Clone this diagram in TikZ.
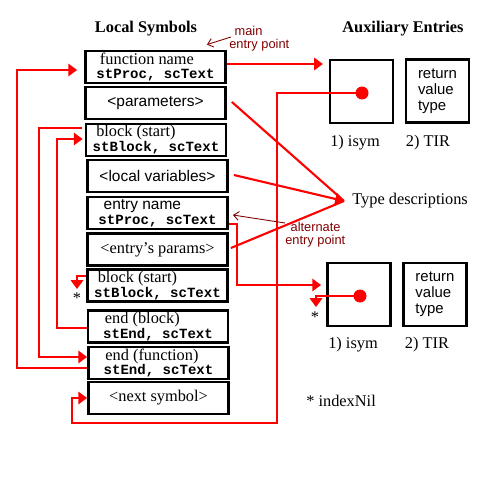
\documentclass[tikz,border=0pt]{standalone}
\usepackage{fontspec}
\setmainfont{Liberation Serif}
\setsansfont{Liberation Sans}
\setmonofont{Liberation Mono}
\usepackage{tikz}
\usetikzlibrary{arrows.meta,calc,positioning}
\definecolor{labred}{RGB}{128,0,0}
\newcommand{\msz}{\fontsize{8}{8}\selectfont\ttfamily\bfseries}
\newcommand{\ssz}{\fontsize{8.8}{9}\selectfont\sffamily}
\tikzset{
	symbox/.style={draw, line width=1.6pt, minimum width=2.8cm, minimum height=0.64cm, inner sep=0pt, align=center, font=\fontsize{9.3}{8.5}\selectfont},
	twobox/.style={symbox, align=left},
	auxbox/.style={draw, line width=1.6pt, minimum width=1.26cm, minimum height=1.26cm, inner sep=0pt},
	rline/.style={red, line width=1.2pt},
	rarrow/.style={rline, -{Triangle[length=5pt,width=7pt]}},
	darrow/.style={labred, line width=0.5pt, -{Straight Barb[length=3pt,width=5pt]}},
	lab/.style={labred, font=\sffamily\fontsize{7.3}{7.4}\selectfont, align=left, inner sep=0pt},
	serif/.style={font=\fontsize{9.3}{10}\selectfont},
	dot/.style={circle, fill=red, minimum size=0.26cm, inner sep=0pt}
}

\begin{document}
\begin{tikzpicture}[x=0.02cm, y=-0.02cm]
	\useasboundingbox (0,0) rectangle (500,500);
	\node[font=\bfseries\fontsize{9.3}{10}\selectfont] (loctitle) at (146,29) {Local Symbols};
	\node[font=\bfseries\fontsize{9.3}{10}\selectfont] (auxtitle) at (403,29) {Auxiliary Entries};
	% local symbol table
	\node[twobox] (fn) at (155.5,67) {\hspace{2pt}function name\\{\msz stProc, scText}};
	\node[symbox, font=\ssz] (par) at (155.5,103) {<parameters>};
	\node[twobox] (blk) at (156,140) {\hspace{2pt}block (start)\\{\msz stBlock, scText}};
	\node[symbox, font=\ssz] (loc) at (157.5,176) {<local variables>};
	\node[twobox] (ent) at (157.5,213) {\hspace{3pt}{\ssz entry name}\\{\msz stProc, scText}};
	\node[symbox] (epar) at (157.5,249.5) {<entry's params>};
	\node[twobox] (blk2) at (157.5,285.5) {\hspace{2pt}block (start)\\{\msz stBlock, scText}};
	\node[twobox] (endb) at (158,326.5) {\hspace{1pt}end (block)\\{\msz stEnd, scText}};
	\node[twobox] (endf) at (158.5,363) {\hspace{1pt}end (function)\\{\msz stEnd, scText}};
	\node[symbox] (next) at (158.5,398) {<next symbol>};
	% auxiliary entries
	\node[auxbox] (isym1) at (361.5,91.5) {};
	\node[auxbox, align=left, font=\fontsize{8.5}{9}\selectfont\sffamily] (tir1) at (437.5,91) {return\\value\\type};
	\node[serif] (cap1a) at (355,143) {1) isym};
	\node[serif] (cap1b) at (428,143) {2) TIR};
	\node[auxbox] (isym2) at (359,294.5) {};
	\node[auxbox, align=left, font=\fontsize{8.5}{9}\selectfont\sffamily] (tir2) at (435,294.5) {return\\value\\type};
	\node[serif] (cap2a) at (353,345) {1) isym};
	\node[serif] (cap2b) at (427,345) {2) TIR};
	\node[serif, anchor=west, inner sep=0.16cm] (td) at (344,201) {Type descriptions};
	\node[serif, anchor=west, inner sep=0pt] (nilkey) at (306,401) {* indexNil};
	\node[dot] (dot1) at (362,93) {};
	\node[dot] (dot2) at (360,296) {};
	% red links
	\draw[rarrow] ($(fn.east)+(0,-3)$) -- ($(fn.east)+(96,-3)$);
	\coordinate (loopr) at (277,423);
	\draw[rarrow] (dot1.center) -| (loopr) -| ($(next.west)+(-15,0)$) -- (next.west);
	\draw[rarrow] ($(endf.west)+(0,5)$) -| (17,70) -- ($(fn.west)+(-7,3)$);
	\draw[rarrow] ($(blk.west)+(-3,-12)$) -| (39,357) -- ($(endf.west)+(0,-6)$);
	\draw[rarrow] ($(endb.west)+(0,1.5)$) -| (57,139) -- ($(blk.west)+(-2,-1)$);
	\draw[rarrow] ($(blk2.west)+(0,-9.5)$) -| (77,289);
	\node[serif] (nil1) at (77,298) {*};
	\draw[rarrow] ($(ent.east)+(0,11)$) -| (237,285) -- ($(isym2.west)+(-5,-9.5)$);
	\draw[rarrow] (dot2.center) -| (316,307);
	\node[serif] (nil2) at (315,317) {*};
	\draw[rline] ($(par.east)+(5,-1)$) -- (td.west);
	\draw[rarrow] ($(loc.east)+(5,-1)$) -- (td.west);
	\draw[rline] ($(epar.east)+(2,-1.5)$) -- (td.west);
	% entry point labels
	\node[lab, anchor=north west] (mainlbl) at (229,26) {\hspace{3pt}main\\entry point};
	\draw[darrow] ($(mainlbl.north west)+(2,11)$) -- ($(fn.north east)+(-20,-5)$);
	\node[lab, anchor=north west] (altlbl) at (285,222) {\hspace{3pt}alternate\\entry point};
	\draw[darrow] ($(altlbl.north west)+(0,1)$) -- ($(ent.east)+(4,2)$);
\end{tikzpicture}
\end{document}
